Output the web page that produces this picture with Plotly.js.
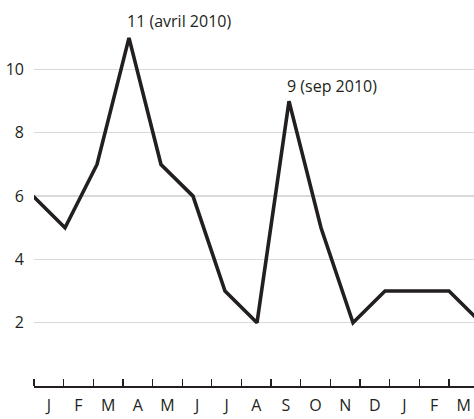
<!DOCTYPE html>
<html>
<head>
<meta charset="utf-8">
<script src="https://cdn.plot.ly/plotly-3.0.1.min.js"></script>
<style>html,body{margin:0;padding:0;background:#fff;}#chart{width:474px;height:419px;}</style>
</head>
<body>
<div id="chart"></div>
<script>
// Monthly values, Jan 2010 – Mar 2011
const monthIndex = [0,1,2,3,4,5,6,7,8,9,10,11,12,13,14];
const values = [6,5,7,11,7,6,3,2,9,5,2,3,3,3,2];
const monthLabels = ["J","F","M","A","M","J","J","A","S","O","N","D","J","F","M"];
const labelPositions = [0.5,1.5,2.5,3.5,4.5,5.5,6.5,7.5,8.5,9.5,10.5,11.5,12.5,13.5,14.5];
const yTicks = [2,4,6,8,10];
const annotationIdx = [3, 8];
const annotationText = ["11 (avril 2010)", "9 (sep 2010)"];

const ink = "#231f20";
const font = {family: "Open Sans, sans-serif", size: 16, color: ink};

// helper (draws nothing) so that the month-label axis gets its subplot
const labelAxisTrace = {
  type: "scatter", mode: "none",
  x: labelPositions, y: labelPositions.map(() => null),
  xaxis: "x", yaxis: "y", hoverinfo: "skip"
};

const trace = {
  type: "scatter", mode: "lines",
  x: monthIndex, y: values,
  xaxis: "x2", yaxis: "y",
  line: {color: ink, width: 3.6, shape: "linear"},
  hoverinfo: "skip"
};

const layout = {
  width: 474, height: 419,
  margin: {l: 34, r: 0, t: 0, b: 33, pad: 0},
  paper_bgcolor: "#fff", plot_bgcolor: "#fff",
  font: font,
  showlegend: false,
  xaxis: {
    range: [0, 440/29.64],
    tickmode: "array", tickvals: labelPositions, ticktext: monthLabels,
    ticks: "", showgrid: false, zeroline: false,
    showline: true, linecolor: ink, linewidth: 1.5,
    ticklabelstandoff: 4,
    minor: {tickmode: "linear", tick0: 0, dtick: 1, ticks: "inside", ticklen: 7, tickwidth: 1.3, tickcolor: ink, showgrid: false},
    tickfont: font, fixedrange: true
  },
  xaxis2: {
    overlaying: "x", anchor: "y",
    range: [1/32, 441/32],
    visible: false, showgrid: false, zeroline: false, fixedrange: true
  },
  yaxis: {
    range: [0, 386/31.65],
    tickmode: "array", tickvals: yTicks,
    ticks: "", showgrid: true, gridcolor: "#d9d9d9", gridwidth: 1.3,
    zeroline: false, showline: false,
    ticklabelstandoff: 9,
    tickfont: font, fixedrange: true
  },
  annotations: annotationIdx.map((i, k) => ({
    xref: "x2", yref: "y", x: monthIndex[i], y: values[i],
    text: annotationText[k], showarrow: false,
    xanchor: "left", yanchor: "middle",
    xshift: -4, yshift: k === 0 ? 17 : 15,
    font: font
  }))
};

Plotly.newPlot("chart", [labelAxisTrace, trace], layout, {displayModeBar: false, staticPlot: true});
</script>
</body>
</html>
